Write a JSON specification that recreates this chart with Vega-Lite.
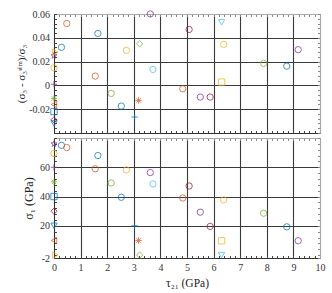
{
  "$schema": "https://vega.github.io/schema/vega-lite/v6.json",
  "padding": {"left": 15, "top": 8, "right": 5, "bottom": 0},
  "spacing": 5,
  "bounds": "flush",
  "datasets": {
    "pts": [
      {"t": 0, "e": 0.025, "s": 76, "col": "purple", "sym": "star"},
      {"t": 0.28, "e": 0.032, "s": 75, "col": "blue", "sym": "circle"},
      {"t": 0.48, "e": 0.052, "s": 73.5, "col": "orange", "sym": "circle"},
      {"t": 0, "e": 0.0148, "s": 69.5, "col": "yellow", "sym": "circle"},
      {"t": 0, "e": 0.001, "s": 60, "col": "purple", "sym": "plus"},
      {"t": 0, "e": -0.011, "s": 50, "col": "green", "sym": "asterisk"},
      {"t": 0, "e": -0.016, "s": 10, "col": "orange", "sym": "triangle-left"},
      {"t": 0, "e": -0.022, "s": 40, "col": "blue", "sym": "square"},
      {"t": 0, "e": -0.029, "s": 30, "col": "red", "sym": "diamond"},
      {"t": 0, "e": -0.032, "s": 20, "col": "blue", "sym": "triangle-down"},
      {"t": 0.05, "e": 0.028, "s": 0, "col": "yellow", "sym": "triangle-right"},
      {"t": 1.55, "e": 0.0078, "s": 59, "col": "orange", "sym": "circle"},
      {"t": 1.65, "e": 0.0437, "s": 68, "col": "blue", "sym": "circle"},
      {"t": 2.15, "e": -0.0067, "s": 49.3, "col": "green", "sym": "circle"},
      {"t": 2.53, "e": -0.0174, "s": 39.5, "col": "blue", "sym": "circle"},
      {"t": 2.72, "e": 0.0294, "s": 58.2, "col": "yellow", "sym": "circle"},
      {"t": 3.22, "e": 0.035, "s": 0, "col": "green", "sym": "diamond"},
      {"t": 3.18, "e": -0.0126, "s": 10, "col": "orange", "sym": "asterisk"},
      {"t": 3.03, "e": -0.0266, "s": 20, "col": "blue", "sym": "plus"},
      {"t": 3.62, "e": 0.06, "s": 56.4, "col": "purple", "sym": "circle"},
      {"t": 3.72, "e": 0.0134, "s": 48.6, "col": "cyan", "sym": "circle"},
      {"t": 5.08, "e": 0.047, "s": 47.2, "col": "red", "sym": "circle"},
      {"t": 6.3, "e": 0.053, "s": 0, "col": "cyan", "sym": "triangle-down"},
      {"t": 6.38, "e": 0.0345, "s": 37.7, "col": "yellow", "sym": "circle"},
      {"t": 9.18, "e": 0.03, "s": 9.8, "col": "purple", "sym": "circle"},
      {"t": 7.88, "e": 0.0185, "s": 28.6, "col": "green", "sym": "circle"},
      {"t": 8.75, "e": 0.0162, "s": 19.3, "col": "blue", "sym": "circle"},
      {"t": 6.3, "e": 0.0028, "s": 9.8, "col": "yellow", "sym": "square"},
      {"t": 4.84, "e": -0.0029, "s": 39.0, "col": "orange", "sym": "circle"},
      {"t": 5.5, "e": -0.0098, "s": 29.3, "col": "purple", "sym": "circle"},
      {"t": 5.87, "e": -0.0098, "s": 19.6, "col": "red", "sym": "circle"}
    ]
  },
  "config": {
    "view": {"stroke": null},
    "font": "Liberation Serif",
    "axis": {
      "labelFont": "Liberation Serif",
      "titleFont": "Liberation Serif",
      "labelFontSize": 10,
      "titleFontSize": 11,
      "labelColor": "#333",
      "titleColor": "#222",
      "titleFontWeight": "normal",
      "tickSize": -2.5,
      "tickColor": "#444",
      "domainColor": "#333",
      "gridColor": "#3a3a3a",
      "gridWidth": 1.1,
      "labelFlush": false,
      "labelOverlap": false,
      "labelPadding": 7
    }
  },
  "vconcat": [
    {
      "width": 266,
      "height": 119,
      "data": {"name": "pts"},
      "layer": [
        {
          "mark": {"type": "point", "filled": false, "strokeWidth": 1, "opacity": 0.75, "size": 40},
          "encoding": {
            "x": {"field": "t", "type": "quantitative", "scale": {"domain": [0, 10], "nice": false, "zero": false},
              "axis": {"orient": "bottom", "title": null, "labels": false,
                "values": [0,0.2,0.4,0.6,0.8,1,1.2,1.4,1.6,1.8,2,2.2,2.4,2.6,2.8,3,3.2,3.4,3.6,3.8,4,4.2,4.4,4.6,4.8,5,5.2,5.4,5.6,5.8,6,6.2,6.4,6.6,6.8,7,7.2,7.4,7.6,7.8,8,8.2,8.4,8.6,8.8,9,9.2,9.4,9.6,9.8,10],
                "gridOpacity": {"condition": {"test": "abs(datum.value-round(datum.value))<1e-6", "value": 1}, "value": 0}}},
            "y": {"field": "e", "type": "quantitative", "scale": {"domain": [-0.04, 0.06], "nice": false, "zero": false},
              "axis": {"orient": "left", "title": "(σ₃ - σ₃ˢⁱᵐ)/σ₃", "titlePadding": 2,
                "values": [-0.04,-0.036,-0.032,-0.028,-0.024,-0.02,-0.016,-0.012,-0.008,-0.004,0,0.004,0.008,0.012,0.016,0.02,0.024,0.028,0.032,0.036,0.04,0.044,0.048,0.052,0.056,0.06],
                "labelExpr": "abs(datum.value*50-round(datum.value*50))<1e-6 && datum.value>-0.03 ? replace(format(datum.value,'~g'),'−','-') : ''",
                "gridOpacity": {"condition": {"test": "abs(datum.value*50-round(datum.value*50))<1e-6", "value": 1}, "value": 0}}},
            "color": {"field": "col", "type": "nominal", "legend": null,
              "scale": {"domain": ["blue","orange","yellow","purple","green","cyan","red"], "range": ["#0072BD","#D95319","#EDB120","#7E2F8E","#77AC30","#4DBEEE","#A2142F"]}},
            "shape": {"field": "sym", "type": "nominal", "legend": null,
              "scale": {"domain": ["circle","square","diamond","triangle-down","triangle-left","triangle-right","star","plus","asterisk"],
                "range": ["circle","square","diamond","triangle-down","triangle-left","triangle-right",
                  "M0,-1L0.2245,-0.309L0.951,-0.309L0.363,0.118L0.588,0.809L0,0.382L-0.588,0.809L-0.363,0.118L-0.951,-0.309L-0.2245,-0.309Z",
                  "M-1,0L1,0M0,-1L0,1",
                  "M-1,0L1,0M0,-1L0,1M-0.7,-0.7L0.7,0.7M-0.7,0.7L0.7,-0.7"]}}
          }
        },
        {
          "mark": {"type": "point", "opacity": 0},
          "encoding": {
            "x": {"field": "t", "type": "quantitative",
              "axis": {"orient": "top", "title": null, "labels": false, "grid": false, "domainColor": "#aaa", "tickColor": "#888",
                "values": [0,0.2,0.4,0.6,0.8,1,1.2,1.4,1.6,1.8,2,2.2,2.4,2.6,2.8,3,3.2,3.4,3.6,3.8,4,4.2,4.4,4.6,4.8,5,5.2,5.4,5.6,5.8,6,6.2,6.4,6.6,6.8,7,7.2,7.4,7.6,7.8,8,8.2,8.4,8.6,8.8,9,9.2,9.4,9.6,9.8,10]}},
            "y": {"field": "e", "type": "quantitative",
              "axis": {"orient": "right", "title": null, "labels": false, "grid": false, "domainColor": "#aaa", "tickColor": "#888",
                "values": [-0.04,-0.036,-0.032,-0.028,-0.024,-0.02,-0.016,-0.012,-0.008,-0.004,0,0.004,0.008,0.012,0.016,0.02,0.024,0.028,0.032,0.036,0.04,0.044,0.048,0.052,0.056,0.06]}}
          }
        }
      ],
      "resolve": {"axis": {"x": "independent", "y": "independent"}}
    },
    {
      "width": 266,
      "height": 120,
      "data": {"name": "pts"},
      "layer": [
        {
          "mark": {"type": "point", "filled": false, "strokeWidth": 1, "opacity": 0.75, "size": 40},
          "encoding": {
            "x": {"field": "t", "type": "quantitative", "scale": {"domain": [0, 10], "nice": false, "zero": false},
              "axis": {"orient": "bottom", "title": "τ₂₁ (GPa)", "titlePadding": 5, "titleFontSize": 11.5,
                "values": [0,0.2,0.4,0.6,0.8,1,1.2,1.4,1.6,1.8,2,2.2,2.4,2.6,2.8,3,3.2,3.4,3.6,3.8,4,4.2,4.4,4.6,4.8,5,5.2,5.4,5.6,5.8,6,6.2,6.4,6.6,6.8,7,7.2,7.4,7.6,7.8,8,8.2,8.4,8.6,8.8,9,9.2,9.4,9.6,9.8,10],
                "labelExpr": "abs(datum.value-round(datum.value))<1e-6 ? ''+round(datum.value) : ''",
                "gridOpacity": {"condition": {"test": "abs(datum.value-round(datum.value))<1e-6", "value": 1}, "value": 0}}},
            "y": {"field": "s", "type": "quantitative", "scale": {"domain": [-2, 80], "nice": false, "zero": false},
              "axis": {"orient": "left", "title": "σ₁  (GPa)", "titlePadding": 4, "titleFontSize": 12,
                "values": [-2,0,4,8,12,16,20,24,28,32,36,40,44,48,52,56,60,64,68,72,76,80],
                "labelExpr": "datum.value==-2 ? '-2' : (datum.value==20||datum.value==40||datum.value==60) ? ''+datum.value : ''",
                "gridOpacity": {"condition": {"test": "datum.value==20||datum.value==40||datum.value==60", "value": 1}, "value": 0}}},
            "color": {"field": "col", "type": "nominal", "legend": null,
              "scale": {"domain": ["blue","orange","yellow","purple","green","cyan","red"], "range": ["#0072BD","#D95319","#EDB120","#7E2F8E","#77AC30","#4DBEEE","#A2142F"]}},
            "shape": {"field": "sym", "type": "nominal", "legend": null,
              "scale": {"domain": ["circle","square","diamond","triangle-down","triangle-left","triangle-right","star","plus","asterisk"],
                "range": ["circle","square","diamond","triangle-down","triangle-left","triangle-right",
                  "M0,-1L0.2245,-0.309L0.951,-0.309L0.363,0.118L0.588,0.809L0,0.382L-0.588,0.809L-0.363,0.118L-0.951,-0.309L-0.2245,-0.309Z",
                  "M-1,0L1,0M0,-1L0,1",
                  "M-1,0L1,0M0,-1L0,1M-0.7,-0.7L0.7,0.7M-0.7,0.7L0.7,-0.7"]}}
          }
        },
        {
          "mark": {"type": "point", "opacity": 0},
          "encoding": {
            "x": {"field": "t", "type": "quantitative",
              "axis": {"orient": "top", "title": null, "labels": false, "grid": false, "domainColor": "#aaa", "tickColor": "#888",
                "values": [0,0.2,0.4,0.6,0.8,1,1.2,1.4,1.6,1.8,2,2.2,2.4,2.6,2.8,3,3.2,3.4,3.6,3.8,4,4.2,4.4,4.6,4.8,5,5.2,5.4,5.6,5.8,6,6.2,6.4,6.6,6.8,7,7.2,7.4,7.6,7.8,8,8.2,8.4,8.6,8.8,9,9.2,9.4,9.6,9.8,10]}},
            "y": {"field": "s", "type": "quantitative",
              "axis": {"orient": "right", "title": null, "labels": false, "grid": false, "domainColor": "#aaa", "tickColor": "#888",
                "values": [-2,0,4,8,12,16,20,24,28,32,36,40,44,48,52,56,60,64,68,72,76,80]}}
          }
        }
      ],
      "resolve": {"axis": {"x": "independent", "y": "independent"}}
    }
  ]
}
